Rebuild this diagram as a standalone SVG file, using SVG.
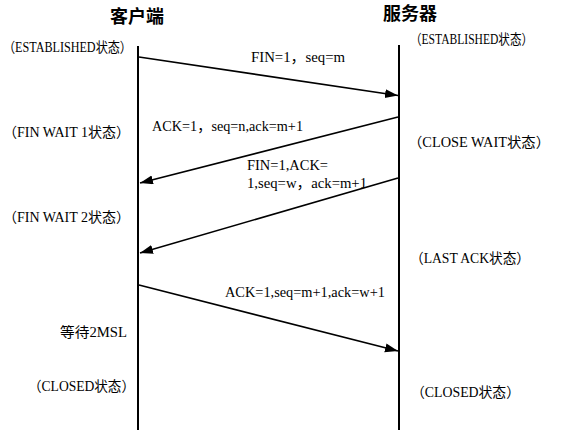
<svg xmlns="http://www.w3.org/2000/svg" width="567" height="430" viewBox="0 0 567 430">
<style>
.t{font-family:"Liberation Serif","Noto Sans CJK SC",serif;font-size:14px;fill:#000}
.h{font-family:"Noto Sans CJK SC",sans-serif;font-size:18px;font-weight:bold;fill:#000}
.life{stroke:#000;stroke-width:2;fill:none}
.msg{stroke:#000;stroke-width:1.6;fill:none}
</style>
<defs>
<marker id="ah" markerUnits="userSpaceOnUse" markerWidth="14" markerHeight="10" refX="13" refY="4.5" orient="auto">
<path d="M0,0 L13,4.5 L0,9 z" fill="#000"/>
</marker>
</defs>
<rect width="567" height="430" fill="#fff"/>
<g id="client">
<text class="h" x="137" y="23" text-anchor="middle">客户端</text>
<line class="life" x1="138" y1="46" x2="138" y2="430"/>
<text class="t" x="3" y="52" textLength="129" lengthAdjust="spacingAndGlyphs">（ESTABLISHED状态）</text>
<text class="t" x="3" y="137" textLength="127" lengthAdjust="spacingAndGlyphs">（FIN WAIT 1状态）</text>
<text class="t" x="3" y="222" textLength="127" lengthAdjust="spacingAndGlyphs">（FIN WAIT 2状态）</text>
<text class="t" x="60" y="337" textLength="67" lengthAdjust="spacingAndGlyphs">等待2MSL</text>
<text class="t" x="28" y="391" textLength="107" lengthAdjust="spacingAndGlyphs">（CLOSED状态）</text>
</g>
<g id="server">
<text class="h" x="410" y="20" text-anchor="middle">服务器</text>
<line class="life" x1="399" y1="45" x2="399" y2="430"/>
<text class="t" x="410" y="44" textLength="123" lengthAdjust="spacingAndGlyphs">（ESTABLISHED状态）</text>
<text class="t" x="408" y="147" textLength="142" lengthAdjust="spacingAndGlyphs">（CLOSE WAIT状态）</text>
<text class="t" x="410" y="263" textLength="120" lengthAdjust="spacingAndGlyphs">（LAST ACK状态）</text>
<text class="t" x="411" y="397" textLength="109" lengthAdjust="spacingAndGlyphs">（CLOSED状态）</text>
</g>
<g id="connectors">
<line class="msg" x1="139" y1="57" x2="398" y2="95.5" marker-end="url(#ah)"/>
<line class="msg" x1="398" y1="117" x2="140" y2="183" marker-end="url(#ah)"/>
<line class="msg" x1="398" y1="178" x2="140" y2="253" marker-end="url(#ah)"/>
<line class="msg" x1="139" y1="285" x2="398" y2="351" marker-end="url(#ah)"/>
<text class="t" x="251" y="62" textLength="94" lengthAdjust="spacingAndGlyphs">FIN=1，seq=m</text>
<text class="t" x="152" y="131" textLength="151" lengthAdjust="spacingAndGlyphs">ACK=1，seq=n,ack=m+1</text>
<text class="t" x="247" y="170" textLength="81" lengthAdjust="spacingAndGlyphs">FIN=1,ACK=</text>
<text class="t" x="247" y="188" textLength="120" lengthAdjust="spacingAndGlyphs">1,seq=w，ack=m+1</text>
<text class="t" x="225" y="297" textLength="160" lengthAdjust="spacingAndGlyphs">ACK=1,seq=m+1,ack=w+1</text>
</g>
</svg>
